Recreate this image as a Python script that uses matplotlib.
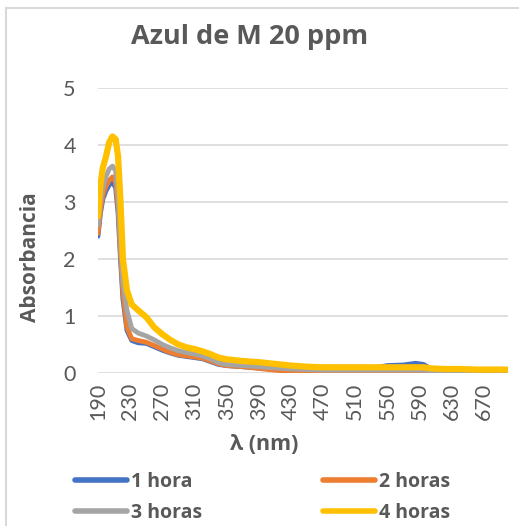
import numpy as np
import matplotlib
matplotlib.use("Agg")
from matplotlib import pyplot as plt
from matplotlib.lines import Line2D

# Wavelengths (nm) and absorbance
wavelength = [190, 193, 196, 200, 204, 208, 212, 215, 218, 221, 226, 232, 240, 250,
              260, 270, 280, 290, 300, 310, 320, 330, 340, 350, 370, 390, 410, 430,
              450, 470, 490, 510, 530, 550, 570, 585, 595, 605, 620, 640, 660, 680, 700]

hora_1 = [2.40, 2.80, 3.05, 3.20, 3.30, 3.35, 3.25, 2.80, 2.00, 1.30, 0.75, 0.57, 0.53, 0.52,
          0.46, 0.40, 0.35, 0.31, 0.29, 0.27, 0.25, 0.20, 0.15, 0.13, 0.11, 0.09, 0.06, 0.04,
          0.03, 0.03, 0.03, 0.04, 0.08, 0.13, 0.14, 0.17, 0.15, 0.06, 0.03, 0.02, 0.02, 0.02, 0.02]

horas_2 = [2.45, 2.85, 3.12, 3.28, 3.38, 3.44, 3.35, 2.90, 2.10, 1.40, 0.80, 0.60, 0.57, 0.54,
           0.48, 0.42, 0.36, 0.32, 0.30, 0.28, 0.26, 0.21, 0.16, 0.13, 0.11, 0.08, 0.05, 0.03,
           0.02, 0.02, 0.02, 0.02, 0.02, 0.02, 0.02, 0.02, 0.02, 0.02, 0.02, 0.02, 0.02, 0.02, 0.02]

horas_3 = [2.60, 3.00, 3.25, 3.45, 3.58, 3.63, 3.55, 3.10, 2.30, 1.60, 1.10, 0.78, 0.70, 0.65,
           0.58, 0.50, 0.44, 0.39, 0.36, 0.33, 0.30, 0.25, 0.18, 0.15, 0.13, 0.11, 0.09, 0.07,
           0.06, 0.05, 0.05, 0.05, 0.05, 0.05, 0.05, 0.05, 0.05, 0.04, 0.03, 0.03, 0.03, 0.03, 0.03]

horas_4 = [2.75, 3.30, 3.60, 3.80, 4.05, 4.15, 4.10, 3.80, 3.00, 2.00, 1.45, 1.20, 1.10, 0.98,
           0.80, 0.68, 0.58, 0.50, 0.45, 0.42, 0.38, 0.33, 0.27, 0.24, 0.21, 0.19, 0.16, 0.13,
           0.11, 0.10, 0.10, 0.10, 0.10, 0.10, 0.10, 0.10, 0.10, 0.08, 0.07, 0.07, 0.06, 0.06, 0.06]

series = [("1 hora", hora_1, "#4472C4"),
          ("2 horas", horas_2, "#ED7D31"),
          ("3 horas", horas_3, "#A5A5A5"),
          ("4 horas", horas_4, "#FFC000")]

x_ticks = list(range(190, 671, 40))
y_ticks = [0, 1, 2, 3, 4, 5]

plt.rcParams['font.family'] = ['Lato', 'DejaVu Sans']
text_gray = "#595959"
bold_font = ['Open Sans', 'DejaVu Sans']

fig = plt.figure(figsize=(5.19, 5.26), dpi=100)
ax = fig.add_axes([0.1888, 0.2909, 0.79, 0.5418])

for name, vals, col in series:
    lw = 4.5 if name == "4 horas" else 3.5
    ax.plot(wavelength, vals, color=col, lw=lw, label=name, solid_capstyle="round",
            solid_joinstyle="round")

ax.set_xlim(190, 700)
ax.set_ylim(0, 5)
ax.set_xticks(x_ticks)
ax.set_xticklabels([str(t) for t in x_ticks], rotation=90)
ax.set_yticks(y_ticks)
ax.tick_params(axis="x", length=0, pad=7, labelsize=15.5, labelcolor=text_gray)
ax.tick_params(axis="y", length=0, pad=16, labelsize=15.5, labelcolor=text_gray)
ax.grid(axis="y", color="#D9D9D9", lw=1.2)
ax.set_axisbelow(True)
for s in ax.spines.values():
    s.set_visible(False)

fig.text(250 / 519, 1 - 37 / 526, "Azul de M 20 ppm", ha="center", va="center",
         fontsize=19.5, fontweight="bold", color=text_gray, family=bold_font)
fig.text(30 / 519, 1 - 257 / 526, "Absorbancia", ha="center", va="center", rotation=90,
         fontsize=15, fontweight="bold", color=text_gray, family=bold_font)
fig.text(264 / 519, 1 - 445 / 526, "λ (nm)", ha="center", va="center",
         fontsize=15.5, fontweight="bold", color=text_gray, family=bold_font)

# chart border (left and top visible)
fig.add_artist(Line2D([6 / 519, 6 / 519], [0, 1 - 8 / 526], color="#D9D9D9", lw=1.5,
                      transform=fig.transFigure))
fig.add_artist(Line2D([6 / 519, 1], [1 - 8 / 526, 1 - 8 / 526], color="#D9D9D9", lw=1.5,
                      transform=fig.transFigure))

handles, labels = ax.get_legend_handles_labels()
order = [0, 2, 1, 3]  # row-major order like the original
leg = fig.legend([handles[i] for i in order], [labels[i] for i in order],
                 loc="upper left", bbox_to_anchor=(57 / 519, 1 - 454 / 526),
                 ncol=2, frameon=False, handlelength=2.7, handletextpad=0.2,
                 columnspacing=6.2, labelspacing=0.6,
                 prop={"weight": "bold", "size": 14, "family": bold_font})
for t in leg.get_texts():
    t.set_color(text_gray)
for h in leg.legend_handles:
    h.set_linewidth(4)

fig.savefig("out.png", dpi=100)
